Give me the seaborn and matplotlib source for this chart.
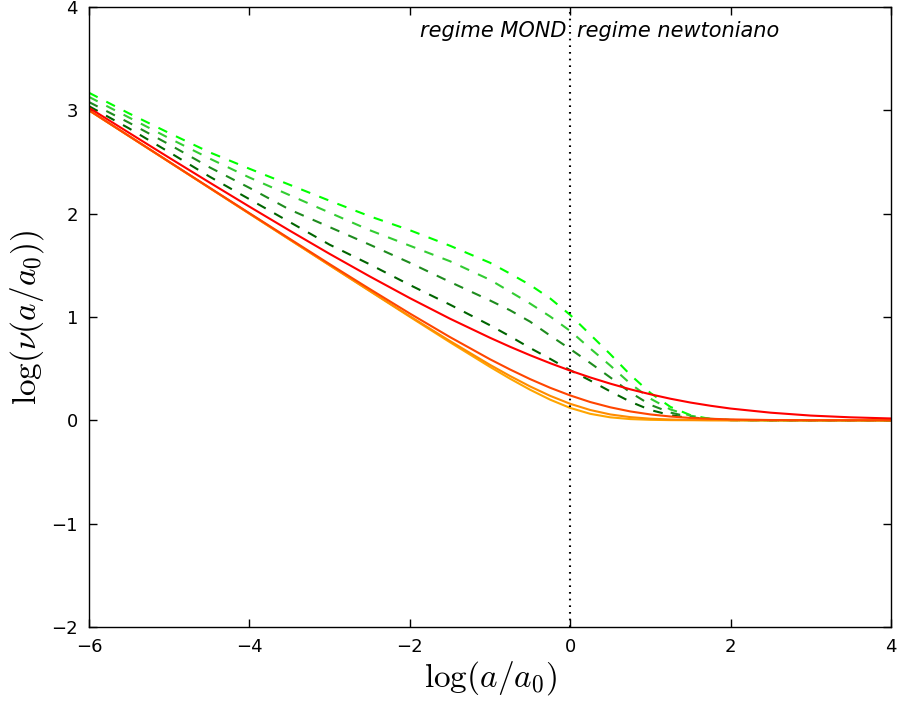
import numpy as np
import pandas as pd
import matplotlib
matplotlib.use("Agg")
import matplotlib.pyplot as plt
import seaborn as sns

# ---- data ----
x_vals = [-6, -5.5, -5, -4.5, -4, -3.5, -3, -2.5, -2, -1.5, -1, -0.75, -0.5, -0.25,
          0, 0.25, 0.5, 0.75, 1, 1.25, 1.5, 1.75, 2, 2.5, 3, 3.5, 4]

# solid family (red -> orange)
solid_n1 = [3.025, 2.782, 2.541, 2.303, 2.068, 1.837, 1.611, 1.393, 1.183, 0.984, 0.799, 0.712, 0.630, 0.553,
            0.481, 0.415, 0.355, 0.300, 0.252, 0.209, 0.172, 0.141, 0.114, 0.074, 0.046, 0.029, 0.018]
solid_n2 = [3.001, 2.751, 2.502, 2.253, 2.005, 1.758, 1.512, 1.271, 1.034, 0.806, 0.591, 0.492, 0.399, 0.315,
            0.241, 0.177, 0.126, 0.086, 0.057, 0.037, 0.023, 0.015, 0.009, 0.003, 0.001, 0.0005, 0.0002]
solid_n3 = [3.000, 2.750, 2.500, 2.250, 2.000, 1.751, 1.502, 1.254, 1.008, 0.768, 0.537, 0.429, 0.328, 0.237,
            0.160, 0.100, 0.057, 0.031, 0.016, 0.008, 0.004, 0.002, 0.001, 0.0, 0.0, 0.0, 0.0]
solid_n4 = [3.000, 2.750, 2.500, 2.250, 2.000, 1.750, 1.500, 1.251, 1.002, 0.756, 0.517, 0.403, 0.296, 0.200,
            0.120, 0.063, 0.029, 0.012, 0.005, 0.002, 0.001, 0.0, 0.0, 0.0, 0.0, 0.0, 0.0]

# dashed family (green)
dash_a = [3.17, 2.97, 2.78, 2.595, 2.435, 2.28, 2.125, 1.975, 1.84, 1.69, 1.525, 1.42, 1.31, 1.18,
          1.02, 0.83, 0.64, 0.44, 0.265, 0.13, 0.05, 0.013, 0.003, 0.0, 0.0, 0.0, 0.0]
dash_b = [3.13, 2.93, 2.73, 2.535, 2.35, 2.18, 2.01, 1.84, 1.69, 1.54, 1.36, 1.245, 1.13, 1.005,
          0.865, 0.695, 0.53, 0.355, 0.21, 0.105, 0.045, 0.015, 0.004, 0.0, 0.0, 0.0, 0.0]
dash_c = [3.08, 2.88, 2.67, 2.45, 2.25, 2.04, 1.87, 1.70, 1.525, 1.34, 1.16, 1.065, 0.955, 0.82,
          0.69, 0.555, 0.415, 0.27, 0.15, 0.075, 0.03, 0.01, 0.002, 0.0, 0.0, 0.0, 0.0]
dash_d = [3.04, 2.825, 2.595, 2.36, 2.14, 1.92, 1.70, 1.51, 1.31, 1.12, 0.92, 0.813, 0.70, 0.595,
          0.485, 0.385, 0.28, 0.18, 0.10, 0.05, 0.02, 0.007, 0.002, 0.0, 0.0, 0.0, 0.0]

x_ticks = [-6, -4, -2, 0, 2, 4]
y_ticks = [-2, -1, 0, 1, 2, 3, 4]
label_left = "regime MOND"
label_right = "regime newtoniano"

# ---- style ----
sns.set_theme(style="ticks")
plt.rcParams["font.family"] = ["DejaVu Sans"]
plt.rcParams["mathtext.fontset"] = "cm"
plt.rcParams["lines.scale_dashes"] = False
plt.rcParams["text.color"] = "black"
plt.rcParams["axes.labelcolor"] = "black"

fig = plt.figure(figsize=(8.99, 7.03), dpi=100)
ax = fig.add_axes([89 / 899, 1 - 627 / 703, (891 - 89) / 899, (627 - 7) / 703])

green_series = [(dash_a, "#00ff00"), (dash_b, "#33cc33"), (dash_c, "#1e8b1e"), (dash_d, "#006400")]
solid_series = [(solid_n4, "#ffa500"), (solid_n3, "#ff8c00"), (solid_n2, "#ff4500"), (solid_n1, "#ff0000")]

for vals, col in green_series:
    df = pd.DataFrame({"x": x_vals, "y": vals})
    sns.lineplot(data=df, x="x", y="y", ax=ax, color=col, linewidth=1.5,
                 estimator=None, sort=False)
    ax.lines[-1].set_dashes((7, 7))

for vals, col in solid_series:
    df = pd.DataFrame({"x": x_vals, "y": vals})
    sns.lineplot(data=df, x="x", y="y", ax=ax, color=col, linewidth=1.5,
                 estimator=None, sort=False)

vline = ax.axvline(0, color="black", linewidth=1.5)
vline.set_dashes((1.2, 3.6))

ax.text(-0.05, 3.77, label_left, ha="right", va="center", fontsize=15, style="italic", color="black")
ax.text(0.09, 3.77, label_right, ha="left", va="center", fontsize=15, style="italic", color="black")

ax.set_xlim(-6, 4)
ax.set_ylim(-2, 4)
ax.set_xticks(x_ticks)
ax.set_yticks(y_ticks)
ax.tick_params(direction="in", length=6, width=1, top=True, right=True,
               labelsize=13, pad=8, colors="black")
for s in ax.spines.values():
    s.set_linewidth(1.0)
    s.set_color("black")

ax.set_xlabel(r"$\log(a/a_0)$", fontsize=24, labelpad=2)
ax.set_ylabel(r"$\log(\nu(a/a_0))$", fontsize=24, labelpad=4)

fig.savefig("out.png", dpi=100)
